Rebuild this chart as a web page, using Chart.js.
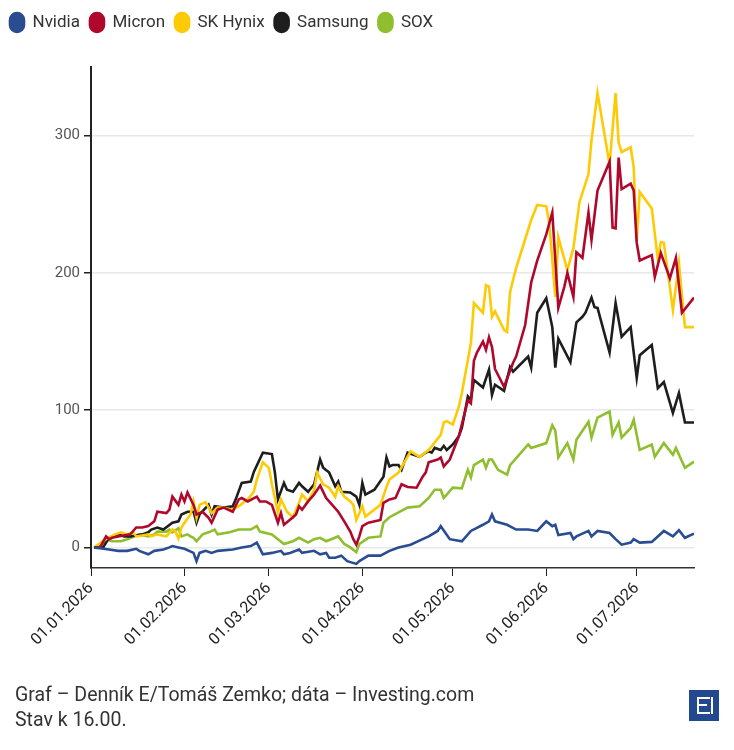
<!DOCTYPE html>
<html>
<head>
<meta charset="utf-8">
<script src="https://cdn.jsdelivr.net/npm/chart.js@4"></script>
<style>
body { margin: 0; background: #fff; }
#wrap { position: relative; width: 734px; height: 750px; }
.note { position: absolute; left: 15px; font-family: Roboto, sans-serif; font-size: 19.5px; line-height: 24px; color: #333; white-space: nowrap; }
#logo { position: absolute; left: 689px; top: 690px; width: 30px; height: 31px; background: #22498f; }
#logo .e { position: absolute; left: 8px; top: 7px; width: 11px; height: 13px; border: 2px solid #fff; border-right: none; }
#logo .m { position: absolute; left: 10px; top: 14px; width: 8px; height: 2px; background: #fff; }
#logo .r { position: absolute; left: 22px; top: 7px; width: 2px; height: 17px; background: #fff; }
</style>
</head>
<body>
<div id="wrap">
  <canvas id="chart1" width="734" height="750"></canvas>
  <div class="note" style="top:683px">Graf – Denník E/Tomáš Zemko; dáta – Investing.com</div>
  <div class="note" style="top:708px">Stav k 16.00.</div>
  <div id="logo"><div class="e"></div><div class="m"></div><div class="r"></div></div>
</div>
<script>
// x = days since 01.01.2026, y = change in %
const monthTicks = [0, 31, 59, 90, 120, 151, 181];
const monthLabels = ['01.01.2026', '01.02.2026', '01.03.2026', '01.04.2026', '01.05.2026', '01.06.2026', '01.07.2026'];

const nvidia = [[1,0],[6,-1.5],[9,-2.5],[12,-2.5],[15,-1],[16,-2.5],[19,-5],[21,-2.5],[24,-1.5],[26,0],[27,1],[29,0],[31,-1],[34,-4],[35,-10],[36,-4],[38,-2.5],[40,-4],[42,-2.5],[47,-1.5],[50,0],[53,1],[55,3.5],[57,-5],[60,-4],[63,-2.5],[64,-5],[66,-4],[69,-1.5],[70,-4],[74,-2.5],[76,-5],[78,-4],[79,-7.5],[81,-7.5],[83,-6],[85,-10],[88,-12],[89,-10],[92,-6],[96,-6],[99,-2.5],[102,0],[106,2],[110,6],[112,8],[115,12],[116,15.5],[119,6],[123,4.5],[126,12],[130,16.5],[132,19],[133,24],[134,19],[138,16.5],[141,13],[145,13],[148,12],[151,19],[153,15.5],[154,16.5],[155,9],[159,10.5],[160,6],[161,8],[165,12],[166,8],[168,12],[172,10.5],[174,6],[176,2],[179,3.5],[180,6],[182,3.5],[186,4],[188,8],[190,12],[193,8],[195,12.5],[197,7],[200,10]];

const micron = [[1,0],[3,0],[5,8],[6,6],[7,7],[9,8],[13,9.5],[15,14.5],[17,14.5],[19,15.5],[21,19],[22,26],[25,25],[26,27.5],[27,37],[29,31],[30,38.5],[31,33.5],[32,40],[34,31],[35,24],[37,26],[39,21.5],[40,18],[42,27.5],[44,29],[47,26],[49,35],[50,36],[52,33.5],[55,37],[56,33.5],[58,33.5],[60,31],[62,18],[63,25],[64,16.5],[67,22],[68,24],[69,30],[70,27.5],[72,33.5],[74,38.5],[76,45],[78,36],[80,31],[82,26],[84,19],[86,11.5],[87,6],[88,2],[89,8],[90,15.5],[92,18],[96,20],[97,32.5],[99,35],[101,36],[103,46],[105,44],[108,43.5],[110,51.5],[111,54.5],[112,62],[115,64],[116,65.5],[117,59],[119,64],[122,81],[125,107],[126,105],[127,136],[128,142],[130,150],[131,144],[132,153],[133,146],[134,130],[137,117],[140,134.5],[141,139],[144,162],[146,193],[148,209],[151,228],[153,244],[155,174.5],[157,190],[158,200],[160,182.5],[161,215],[163,211],[165,244],[166,224],[168,260],[172,281],[173,233],[174,232.5],[175,284],[176,261],[179,265],[180,260],[181,222],[182,209],[186,213],[187,197],[189,214.5],[192,196],[194,211],[196,171],[200,182]];

const skHynix = [[1,0],[5,6],[8,9.5],[10,11],[12,9.5],[14,11],[15,8],[19,9.5],[20,8],[22,9.5],[25,8],[27,13],[28,11.5],[29,6.5],[30,14.5],[31,18],[33,24],[34,33.5],[35,21.5],[36,31],[38,33],[40,25],[42,29],[44,29],[47,27.5],[49,30],[52,35],[54,40.5],[55,49.5],[57,62],[59,58],[60,46],[62,25.5],[63,35],[65,26],[67,22],[69,32.5],[70,38.5],[72,33.5],[74,42],[75,54.5],[77,46],[79,43.5],[81,37],[82,44.5],[84,37],[86,33.5],[87,31],[88,20],[90,30],[91,22.5],[96,31],[98,44],[99,49.5],[102,54.5],[106,70],[109,66],[112,71],[116,82],[117,91],[118,92],[120,89.5],[122,102.5],[123,112.5],[125,136.5],[126,149],[127,178],[130,171],[131,191],[132,190],[133,168],[134,172],[137,158.5],[138,157],[139,186],[140,195],[141,203.5],[146,238.5],[148,249.5],[151,248.5],[152,236],[154,182.5],[155,226],[158,202],[160,218],[162,251.5],[165,272],[166,296.5],[168,331],[172,279],[174,331],[175,295],[176,288],[179,291.5],[180,277],[181,223],[182,259],[186,247],[188,210],[189,222.5],[190,222],[193,173],[195,207],[197,160.5],[200,160.5]];

const samsung = [[1,0],[4,0],[6,7],[9,9.5],[11,8],[13,8],[17,9.5],[19,11],[20,13],[22,14.5],[24,13],[27,18],[29,19],[30,24],[32,26],[34,26],[35,18],[36,24],[39,31],[40,24],[41,30],[44,29],[47,30],[48,35],[50,47],[53,48],[54,55],[57,69],[60,68],[61,54.5],[62,35],[64,47],[65,42],[67,40.5],[69,47],[70,44.5],[72,40.5],[74,46],[76,64],[77,58],[79,54.5],[81,44.5],[82,48],[83,40.5],[86,40],[88,37],[89,31],[90,47],[91,38.5],[94,42],[97,51.5],[98,65.5],[99,59],[100,60],[102,60],[103,56.5],[105,69],[107,67.5],[109,66],[111,69],[112,70],[113,69],[114,72.5],[116,71],[117,74],[118,71],[120,75],[122,81],[123,87],[125,110],[126,107.5],[127,122],[130,116.5],[132,129.5],[133,111],[134,118.5],[137,114],[139,131.5],[140,128],[145,139],[146,131],[148,171],[151,181.5],[153,160.5],[154,131],[155,152],[159,135],[161,164],[163,168],[164,171],[166,182],[167,175],[168,174.5],[172,142],[174,178],[176,153.5],[179,160.5],[181,123.5],[182,140],[186,147.5],[188,116],[190,120.5],[193,98],[195,112.5],[197,91],[200,91]];

const sox = [[1,0],[3,1],[5,6],[7,4.5],[10,4.5],[12,6],[16,9.5],[19,8],[21,9.5],[22,11.5],[25,11.5],[26,13],[27,11],[29,14],[30,8],[32,9.5],[33,8],[34,7],[35,4.5],[37,9.5],[39,11],[41,13],[42,9.5],[46,11],[49,13],[53,13],[55,15.5],[56,11.5],[60,9.5],[62,6],[64,2.5],[67,4.5],[69,7],[72,3.5],[74,6],[76,7],[78,4.5],[82,8],[84,2.5],[86,0],[88,-3.5],[89,2.5],[92,7],[96,8],[97,18],[99,22],[102,25.5],[105,29],[109,30],[112,36],[114,42],[116,42],[117,36],[120,43.5],[123,43],[125,56.5],[126,51],[127,60],[130,64],[131,58],[132,64],[133,64],[135,56.5],[138,53],[139,60],[145,75],[146,72.5],[151,76],[153,89],[154,85],[155,65.5],[158,76],[160,64],[161,78.5],[165,91.5],[166,80],[168,94.5],[172,99],[173,82],[175,91],[176,80],[179,87],[180,93],[182,71],[186,75],[187,66],[190,76],[193,67.5],[194,72.5],[197,58],[200,62.5]];

const series = [
    { label: 'Nvidia', color: '#2a4c91', points: nvidia },
    { label: 'Micron', color: '#b0082c', points: micron },
    { label: 'SK Hynix', color: '#fccb05', points: skHynix },
    { label: 'Samsung', color: '#1e1e1e', points: samsung },
    { label: 'SOX', color: '#8fbe2e', points: sox }
];

const toXY = pts => pts.map(p => ({ x: p[0], y: p[1] }));

// push the plot down below the legend
const legendGap = {
    id: 'legendGap',
    beforeInit(chart) {
        const fit = chart.legend.fit;
        chart.legend.fit = function () {
            fit.bind(chart.legend)();
            this.height += 25;
        };
    }
};

const config = {
    type: 'line',
    data: {
        datasets: series.map(s => ({
            label: s.label,
            borderColor: s.color,
            backgroundColor: s.color,
            borderWidth: 2.6,
            pointRadius: 0,
            tension: 0,
            data: toXY(s.points)
        }))
    },
    options: {
        responsive: false,
        animation: false,
        layout: {
            padding: { top: 3, right: 40, bottom: 82, left: 0 }
        },
        interaction: {
            intersect: false
        },
        plugins: {
            legend: {
                align: 'start',
                labels: {
                    boxWidth: 14,
                    boxHeight: 19,
                    useBorderRadius: true,
                    borderRadius: 7,
                    padding: 10,
                    color: '#333',
                    font: { family: 'Roboto', size: 17 }
                }
            },
            tooltip: { enabled: false }
        },
        scales: {
            x: {
                type: 'linear',
                min: 0,
                max: 200,
                afterFit: s => { s.height = 100; },
                afterBuildTicks: s => { s.ticks = monthTicks.map(v => ({ value: v })); },
                grid: {
                    drawOnChartArea: false,
                    tickLength: 8,
                    tickColor: '#222'
                },
                border: { color: '#333', width: 1.5 },
                ticks: {
                    minRotation: 45,
                    maxRotation: 45,
                    color: '#222',
                    font: { family: 'Roboto', size: 16 },
                    callback: v => monthLabels[monthTicks.indexOf(v)]
                }
            },
            y: {
                type: 'linear',
                min: -15,
                max: 350,
                afterFit: s => { s.width = 91; },
                grid: {
                    color: '#e8e8e8',
                    lineWidth: 1.5,
                    tickLength: 7,
                    tickColor: '#222'
                },
                border: { color: '#222', width: 2 },
                ticks: {
                    stepSize: 100,
                    includeBounds: false,
                    padding: 4,
                    color: '#555',
                    font: { family: 'Roboto', size: 15 }
                }
            }
        }
    },
    plugins: [legendGap]
};

const ctx1 = document.getElementById('chart1').getContext('2d');
const chart1 = new Chart(ctx1, config);
</script>
</body>
</html>
